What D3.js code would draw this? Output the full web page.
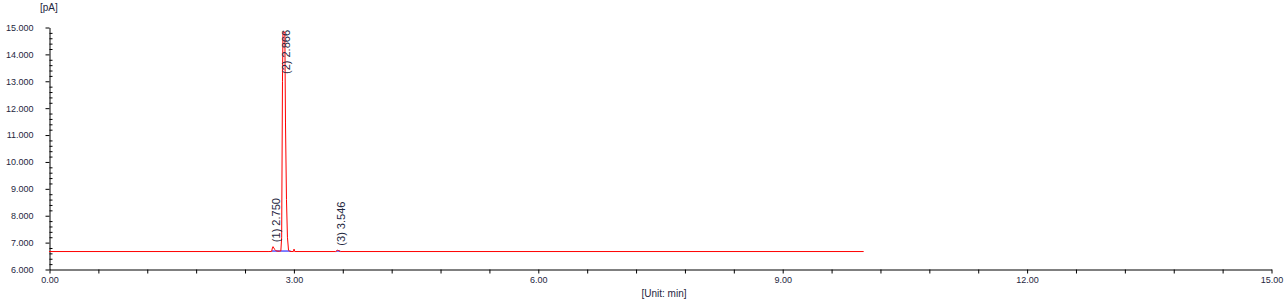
<!DOCTYPE html>
<html>
<head>
<meta charset="utf-8">
<script src="https://cdn.jsdelivr.net/npm/d3@7"></script>
<style>
  html, body { margin: 0; padding: 0; background: #fff; }
  svg { display: block; }
  .tick text { fill: #1e2640; font-family: "Liberation Sans", Arial, sans-serif; font-size: 9px; }
  .unit { fill: #1e2640; font-family: "Liberation Sans", Arial, sans-serif; font-size: 10px; }
  .pk-label { fill: #1e2640; font-family: "Liberation Sans", Arial, sans-serif; font-size: 11px; }
</style>
</head>
<body>
<div id="chart"></div>
<script>
/* ── chromatogram data ── */
const TIME = [0, 2.700, 2.733, 2.742, 2.750, 2.760, 2.772, 2.785, 2.797, 2.830, 2.846,
              2.856, 2.866, 2.872, 2.884, 2.895, 2.903, 2.915, 2.927, 2.940, 2.955,
              3.000, 3.008, 3.016, 3.520, 3.538, 3.546, 3.556, 3.575, 10.0];
const SIGNAL = [6.668, 6.668, 6.672, 6.80, 6.85, 6.80, 6.74, 6.70, 6.685, 6.68, 6.69,
                7.20, 13.00, 14.80, 14.85, 14.78, 11.45, 8.60, 7.20, 6.72, 6.672,
                6.668, 6.76, 6.668, 6.668, 6.71, 6.72, 6.70, 6.668, 6.668];

const PEAK_NO  = [1, 2, 3];
const PEAK_RT  = [2.750, 2.866, 3.546];

/* integration baselines (blue) */
const BASE_FROM  = [2.733, 2.840, 3.525];
const BASE_TO    = [2.840, 2.966, 3.575];
const BASE_LEVEL = 6.668;

const X_LABELS = [0, 3, 6, 9, 12, 15];
const Y_LABELS = [6, 7, 8, 9, 10, 11, 12, 13, 14, 15];

const W = 1286, H = 304;
const L = 49, R = 1271, T = 27, B = 269;

const x = d3.scaleLinear().domain([0, 15]).range([L, R]);
const y = d3.scaleLinear().domain([6, 15]).range([B, T]);

const svg = d3.select('#chart').append('svg')
    .attr('width', W).attr('height', H);

/* y axis: major ticks outside, minor ticks inside */
const yMinor = d3.range(6, 15.001, 0.2).map(v => +v.toFixed(1)).filter(v => Math.abs(v - Math.round(v)) > 1e-6);

svg.append('g')
    .attr('transform', `translate(${L + 0.5},0.5)`)
    .call(d3.axisRight(y).tickValues(yMinor).tickSize(3).tickSizeOuter(0).tickFormat(''))
    .call(g => g.select('.domain').remove());

svg.append('g')
    .attr('transform', `translate(${L + 0.5},0.5)`)
    .call(d3.axisLeft(y).tickValues(Y_LABELS).tickSize(4).tickSizeOuter(0)
        .tickPadding(12).tickFormat(d3.format('.3f')))
    .call(g => g.attr('color', '#000'));

/* x axis */
const xTicks = d3.range(0, 26).map(i => +(i * 0.6).toFixed(1));
svg.append('g')
    .attr('transform', `translate(0.5,${B + 0.5})`)
    .call(d3.axisBottom(x).tickValues(xTicks).tickSize(4).tickSizeOuter(0).tickPadding(3)
        .tickFormat(d => X_LABELS.includes(d) ? d3.format('.2f')(d) : ''))
    .call(g => g.attr('color', '#000'));

svg.append('text').attr('class', 'unit')
    .attr('x', 40).attr('y', 11).text('[pA]');
svg.append('text').attr('class', 'unit')
    .attr('x', 664).attr('y', 297).attr('text-anchor', 'middle').text('[Unit: min]');

/* integration baselines under the trace */
svg.append('g').selectAll('line')
    .data(BASE_FROM.map((f, i) => [f, BASE_TO[i]]))
    .join('line')
    .attr('x1', d => x(d[0])).attr('x2', d => x(d[1]))
    .attr('y1', y(BASE_LEVEL)).attr('y2', y(BASE_LEVEL))
    .attr('stroke', '#0000ff').attr('stroke-width', 1);

/* signal trace */
const pts = TIME.map((t, i) => [t, SIGNAL[i]]);
svg.append('path')
    .datum(pts)
    .attr('fill', 'none')
    .attr('stroke', '#ff0000')
    .attr('stroke-width', 1)
    .attr('d', d3.line().x(d => x(d[0])).y(d => y(d[1]) + 0.5));

/* peak labels, rotated, kept inside the plot top */
PEAK_RT.forEach((rt, i) => {
    const near = pts.filter(p => Math.abs(p[0] - rt) < 0.05);
    const apex = d3.max(near, p => p[1]);
    const lbl = svg.append('text').attr('class', 'pk-label')
        .attr('dy', '0.35em')
        .text(`(${PEAK_NO[i]}) ${rt.toFixed(3)}`);
    const len = lbl.node().getComputedTextLength();
    const y0 = Math.max(y(apex) - 4, T + 3 + len);
    lbl.attr('transform', `translate(${x(rt) + 3.5},${y0}) rotate(-90)`);
});
</script>
</body>
</html>
